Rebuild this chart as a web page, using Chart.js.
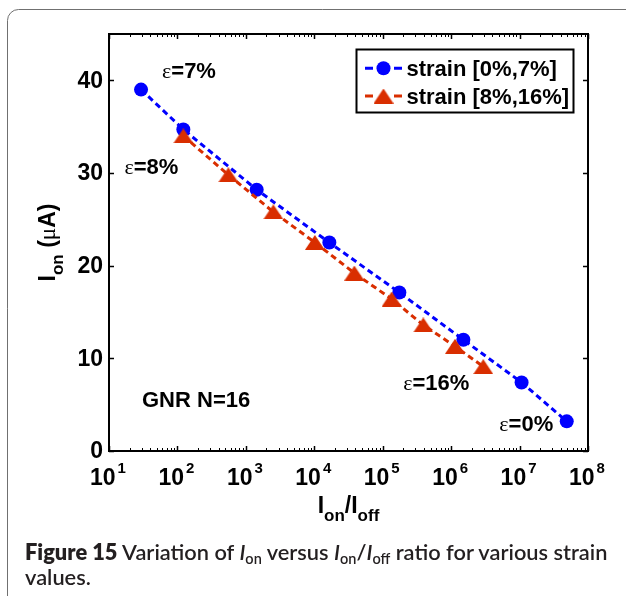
<!DOCTYPE html>
<html>
<head>
<meta charset="utf-8">
<script src="https://cdn.jsdelivr.net/npm/chart.js@4.4.1/dist/chart.umd.min.js"></script>
<style>
  html, body { margin: 0; padding: 0; background: #fff; }
  #wrap { position: relative; width: 626px; height: 596px; overflow: hidden; }
  #c { position: absolute; left: 0; top: 0; }
  #cap {
    position: absolute; left: 25px; top: 539px; width: 610px;
    font-family: "Lato Semibold", "Lato", "Noto Sans", sans-serif; font-size: 21.8px; line-height: 25px;
    color: #231f20; font-weight: 600; white-space: nowrap;
  }
  #cap b { font-family: "Lato", sans-serif; font-weight: 800; }
  #cap sub { font-size: 14.5px; vertical-align: -4px; line-height: 0; }
</style>
</head>
<body>
<div id="wrap">
  <canvas id="c" width="626" height="596"></canvas>
  <div id="cap"><b>Figure 15</b> Variation of <i>I</i><sub>on</sub> versus <i>I</i><sub>on</sub>/<i>I</i><sub>off</sub> ratio for various strain<br>values.</div>
</div>
<script>
// On/off current ratio (x) and on-current in µA (y) for the two strain ranges
const lowStrainRatio   = [29.4, 122, 1440, 16600, 175000, 1510000, 10700000, 48900000];
const lowStrainCurrent = [39.0, 34.7, 28.2, 22.5, 17.1, 12.0, 7.4, 3.2];
const highStrainRatio   = [122, 555, 2520, 10200, 38500, 135000, 392000, 1140000, 2950000];
const highStrainCurrent = [34.0, 29.8, 25.8, 22.5, 19.2, 16.4, 13.6, 11.3, 9.1];

const seriesNames = ['strain [0%,7%]', 'strain [8%,16%]'];
const xTickExponents = [1, 2, 3, 4, 5, 6, 7, 8];
const yTickValues = [0, 10, 20, 30, 40];
const panelNote = 'GNR N=16';

const BLUE = '#0000ff';
const RED = '#d92e00';
const SANS = '"Liberation Sans", Arial, Helvetica, sans-serif';
const SERIF = '"Liberation Serif", "Times New Roman", serif';

// strain labels attached to end points of each series: [series, point index, text, dx, dy, anchor]
const strainNotes = [
  [0, 0, '7%', 21, -11.5, 'left'],
  [1, 0, '8%', -5, 38, 'right'],
  [1, highStrainRatio.length - 1, '16%', -14, 23.5, 'right'],
  [0, lowStrainRatio.length - 1, '0%', -13.5, 9.7, 'right']
];

function triangleMarker(color, w, h) {
  const cv = document.createElement('canvas');
  cv.width = w; cv.height = h;
  const g = cv.getContext('2d');
  g.fillStyle = color;
  g.beginPath();
  g.moveTo(w / 2, 0);
  g.lineTo(w, h);
  g.lineTo(0, h);
  g.closePath();
  g.fill();
  return cv;
}
const triImg = triangleMarker(RED, 20, 15);

function pairs(xs, ys) { return xs.map((x, i) => ({ x: x, y: ys[i] })); }

function drawRich(ctx, parts, x, y, align) {
  // parts: [text, font, dy]
  let total = 0;
  parts.forEach(p => { ctx.font = p[1]; total += ctx.measureText(p[0]).width; });
  let cx = align === 'right' ? x - total : (align === 'center' ? x - total / 2 : x);
  parts.forEach(p => {
    ctx.font = p[1];
    ctx.fillText(p[0], cx, y + (p[2] || 0));
    cx += ctx.measureText(p[0]).width;
  });
  return total;
}

const decor = {
  id: 'decor',
  beforeDraw(chart) {
    const ctx = chart.ctx;
    ctx.save();
    ctx.strokeStyle = '#707070';
    ctx.lineWidth = 1;
    const x0 = 7.5, y0 = 9.5, r = 11;
    ctx.beginPath();
    ctx.moveTo(x0, 700);
    ctx.lineTo(x0, y0 + r);
    ctx.arcTo(x0, y0, x0 + r, y0, r);
    ctx.lineTo(700, y0);
    ctx.stroke();
    ctx.restore();
  },
  afterDatasetsDraw(chart) {
    const ctx = chart.ctx;
    const a = chart.chartArea;
    const xs = chart.scales.x, ys = chart.scales.y;
    ctx.save();
    ctx.fillStyle = '#000';
    ctx.strokeStyle = '#000';

    // axes box
    ctx.lineWidth = 2;
    ctx.strokeRect(a.left, a.top, a.right - a.left, a.bottom - a.top);

    // ticks
    ctx.lineWidth = 1.5;
    ctx.beginPath();
    yTickValues.forEach(v => {
      const py = Math.round(ys.getPixelForValue(v)) + 0.5;
      ctx.moveTo(a.left, py); ctx.lineTo(a.left + 5, py);
      ctx.moveTo(a.right, py); ctx.lineTo(a.right - 5, py);
    });
    xTickExponents.forEach(e => {
      const px = Math.round(xs.getPixelForValue(Math.pow(10, e))) + 0.5;
      ctx.moveTo(px, a.bottom); ctx.lineTo(px, a.bottom - 5);
      ctx.moveTo(px, a.top); ctx.lineTo(px, a.top + 5);
    });
    ctx.stroke();
    ctx.lineWidth = 1;
    ctx.beginPath();
    for (let i = 0; i < xTickExponents.length - 1; i++) {
      for (let k = 2; k <= 9; k++) {
        const px = Math.round(xs.getPixelForValue(k * Math.pow(10, xTickExponents[i]))) + 0.5;
        ctx.moveTo(px, a.bottom); ctx.lineTo(px, a.bottom - 3);
        ctx.moveTo(px, a.top); ctx.lineTo(px, a.top + 3);
      }
    }
    ctx.stroke();

    // y tick labels
    ctx.font = 'bold 23px ' + SANS;
    ctx.textAlign = 'right';
    ctx.textBaseline = 'middle';
    yTickValues.forEach(v => {
      ctx.fillText(String(v), a.left - 6, ys.getPixelForValue(v) + 1);
    });

    // x tick labels: 10 with superscript exponent
    ctx.textAlign = 'left';
    ctx.textBaseline = 'alphabetic';
    xTickExponents.forEach(e => {
      const px = xs.getPixelForValue(Math.pow(10, e));
      ctx.font = 'bold 23px ' + SANS;
      const wb = ctx.measureText('10').width;
      ctx.font = 'bold 15px ' + SANS;
      const we = ctx.measureText(String(e)).width + 2;
      const sx = px - (wb + we) / 2 - 1;
      ctx.font = 'bold 23px ' + SANS;
      ctx.fillText('10', sx, 485);
      ctx.font = 'bold 15px ' + SANS;
      ctx.fillText(String(e), sx + wb + 2, 473);
    });

    // x axis title
    const big = 'bold 23px ' + SANS, sub = 'bold 17px ' + SANS;
    drawRich(ctx, [['I', big, 0], ['on', sub, 8], ['/', big, 0], ['I', big, 0], ['off', sub, 8]],
      (a.left + a.right) / 2, 513, 'center');

    // y axis title
    ctx.save();
    ctx.translate(55, (a.top + a.bottom) / 2);
    ctx.rotate(-Math.PI / 2);
    drawRich(ctx, [['I', big, 0], ['on', sub, 8], [' (', big, 0], ['\u03bc', '23px ' + SERIF, 0], ['A)', big, 0]],
      0, 0, 'center');
    ctx.restore();

    // strain annotations
    const sets = [chart.getDatasetMeta(0), chart.getDatasetMeta(1)];
    strainNotes.forEach(n => {
      const el = sets[n[0]].data[n[1]];
      drawRich(ctx, [['\u03b5', '22px ' + SERIF, 0], ['=' + n[2], 'bold 22px ' + SANS, 0]],
        el.x + n[3], el.y + n[4], n[5]);
    });

    // panel note
    ctx.font = 'bold 22px ' + SANS;
    ctx.textAlign = 'left';
    ctx.fillText(panelNote, a.left + 33, 406.5);

    // legend
    const lx = 356.5, ly = 49.5, lw = 217, lh = 63;
    ctx.fillStyle = '#fff';
    ctx.fillRect(lx, ly, lw, lh);
    ctx.lineWidth = 2;
    ctx.strokeStyle = '#000';
    ctx.strokeRect(lx, ly, lw, lh);
    const rows = [
      { y: 68.3, base: 76, color: BLUE },
      { y: 96, base: 104, color: RED }
    ];
    rows.forEach((r, i) => {
      ctx.strokeStyle = r.color;
      ctx.lineWidth = 3;
      ctx.beginPath();
      ctx.moveTo(365, r.y); ctx.lineTo(373, r.y);
      ctx.moveTo(394, r.y); ctx.lineTo(402, r.y);
      ctx.stroke();
      ctx.fillStyle = r.color;
      if (i === 0) {
        ctx.beginPath();
        ctx.arc(383.5, r.y, 7, 0, Math.PI * 2);
        ctx.fill();
      } else {
        ctx.drawImage(triImg, 383.5 - triImg.width / 2, r.y - triImg.height / 2);
      }
      ctx.fillStyle = '#000';
      ctx.font = 'bold 22px ' + SANS;
      ctx.textAlign = 'left';
      ctx.fillText(seriesNames[i], 406.5, r.base);
    });
    ctx.restore();
  }
};

new Chart(document.getElementById('c'), {
  type: 'scatter',
  data: {
    datasets: [
      {
        label: seriesNames[0],
        data: pairs(lowStrainRatio, lowStrainCurrent),
        showLine: true,
        order: 1,
        borderColor: BLUE,
        backgroundColor: BLUE,
        borderWidth: 3,
        borderDash: [6, 4],
        pointStyle: 'circle',
        pointRadius: 7,
        pointBorderWidth: 0,
        pointBackgroundColor: BLUE
      },
      {
        label: seriesNames[1],
        data: pairs(highStrainRatio, highStrainCurrent),
        showLine: true,
        order: 0,
        borderColor: RED,
        backgroundColor: RED,
        borderWidth: 3,
        borderDash: [6, 4],
        pointStyle: triImg,
        pointRadius: 10,
        pointBorderWidth: 0
      }
    ]
  },
  options: {
    responsive: false,
    animation: false,
    events: [],
    layout: { padding: { left: 109, top: 34, right: 38, bottom: 145 } },
    plugins: { legend: { display: false }, tooltip: { enabled: false } },
    scales: {
      x: { type: 'logarithmic', min: 10, max: 1e8, display: false },
      y: { type: 'linear', min: 0, max: 45, display: false }
    }
  },
  plugins: [decor]
});
</script>
</body>
</html>
